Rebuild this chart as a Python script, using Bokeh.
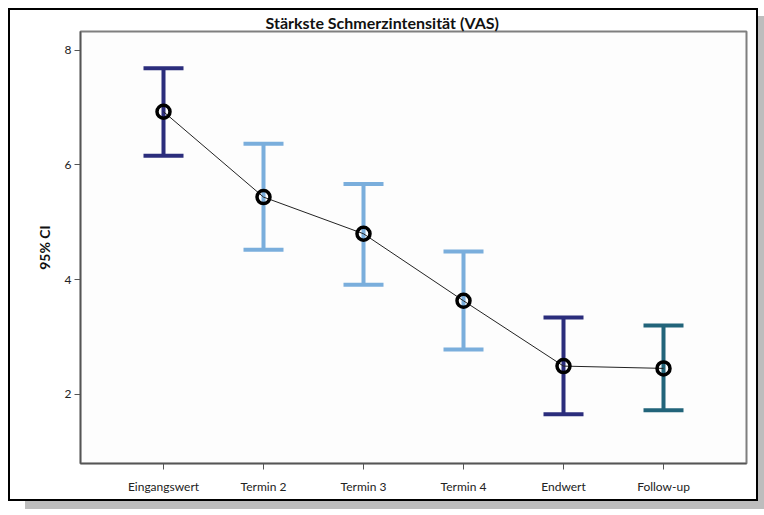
from bokeh.plotting import figure
from bokeh.models import Range1d, FixedTicker, ColumnDataSource
from bokeh.embed import file_html
from bokeh.resources import INLINE

categories = ["Eingangswert", "Termin 2", "Termin 3", "Termin 4", "Endwert", "Follow-up"]
means = [6.93, 5.44, 4.80, 3.63, 2.49, 2.45]
upper = [7.69, 6.37, 5.67, 4.49, 3.34, 3.20]
lower = [6.16, 4.52, 3.91, 2.78, 1.65, 1.72]
colors = ["#2B2D7C", "#7AAEDC", "#7AAEDC", "#7AAEDC", "#2B2D7C", "#22647A"]
y_ticks = [2, 4, 6, 8]
title_text = "Stärkste Schmerzintensität (VAS)"
y_label = "95% CI"

FONT = "Lato"
xs = list(range(len(categories)))
cap = 0.2

src = ColumnDataSource(dict(
    x=xs, mean=means, up=upper, lo=lower, color=colors,
    xl=[x - cap for x in xs], xr=[x + cap for x in xs],
))

p = figure(width=750, height=493, output_backend="svg", toolbar_location=None,
           x_range=Range1d(-0.83, 5.83), y_range=Range1d(0.79, 8.33),
           min_border_left=70, min_border_right=14, min_border_top=17, min_border_bottom=40)
p.styles = {"border": "2px solid black", "box-shadow": "17px 8px 0 0 #bdbdbd",
            "margin-left": "8px", "margin-top": "8px"}

p.title.text = title_text
p.title.align = "left"
p.title.offset = 185
p.title.standoff = 0
p.title.text_font = FONT
p.title.text_font_style = "bold"
p.title.text_font_size = "16px"
p.title.text_color = "#111111"
p.title.text_line_height = 0.75

p.grid.visible = False
p.outline_line_color = "#7f7f7f"
p.outline_line_width = 2
p.background_fill_color = "#fdfdfd"

# error bars
p.segment(x0="x", y0="lo", x1="x", y1="up", source=src, line_color="color", line_width=4)
p.segment(x0="xl", y0="up", x1="xr", y1="up", source=src, line_color="color", line_width=4)
p.segment(x0="xl", y0="lo", x1="xr", y1="lo", source=src, line_color="color", line_width=4)
# mean line and markers
p.line(x="x", y="mean", source=src, line_color="#222222", line_width=1)
p.scatter(x="x", y="mean", source=src, size=13, fill_color=None, line_color="black", line_width=3.5)

# axes
for ax in (p.xaxis[0], p.yaxis[0]):
    ax.axis_line_color = "#555555"
    ax.axis_line_width = 1.5
    ax.major_tick_line_color = "#555555"
    ax.major_tick_out = 6
    ax.major_tick_in = 0
    ax.minor_tick_line_color = None
    ax.major_label_text_font = FONT
    ax.major_label_text_font_size = "12px"
    ax.major_label_text_color = "#222222"

p.xaxis.ticker = FixedTicker(ticks=xs)
p.xaxis.major_label_overrides = {i: c for i, c in enumerate(categories)}
p.xaxis.major_label_standoff = 9

p.yaxis.ticker = FixedTicker(ticks=y_ticks)
p.yaxis.axis_label = y_label
p.yaxis.axis_label_text_font = FONT
p.yaxis.axis_label_text_font_style = "bold"
p.yaxis.axis_label_text_font_size = "14px"
p.yaxis.axis_label_text_color = "#111111"
p.yaxis.axis_label_standoff = 9
p.yaxis.major_label_standoff = 3

open("out.html", "w").write(file_html(p, INLINE))
